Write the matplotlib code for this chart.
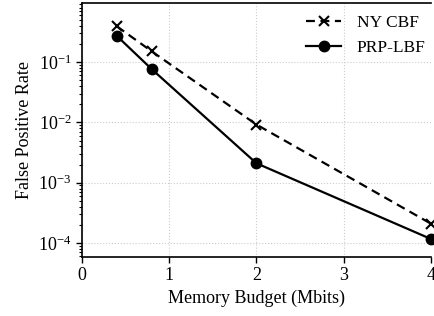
import matplotlib
matplotlib.use("Agg")
import matplotlib.pyplot as plt

plt.rcParams['font.family'] = ['Liberation Serif', 'DejaVu Serif']
plt.rcParams['mathtext.fontset'] = 'stix'

memory = [0.4, 0.8, 2, 4]
ny_cbf = [0.39, 0.15, 0.0092, 2.1e-4]
prp_lbf = [0.27, 0.076, 0.0021, 1.17e-4]

fig = plt.figure(figsize=(4.35, 3.16), dpi=100)
ax = fig.add_axes([0.1885, 0.187, 0.802, 0.8035])
ax.plot(memory, ny_cbf, linestyle=(0, (4, 2.5)), color='black', marker='x', markersize=7.5,
        markeredgewidth=1.5, linewidth=1.6, label='NY CBF', clip_on=False, zorder=3)
ax.plot(memory, prp_lbf, linestyle='-', color='black', marker='o', markersize=7.5,
        linewidth=1.6, label='PRP-LBF', clip_on=False, zorder=3)
ax.set_yscale('log')
ax.set_xlim(0, 4)
ax.set_ylim(5.9e-5, 0.95)
ax.set_xticks([0, 1, 2, 3, 4])
ax.grid(True, which='major', linestyle=':', color='#cccccc', linewidth=0.8)
ax.spines['right'].set_visible(False)
for s in ['top', 'left', 'bottom']:
    ax.spines[s].set_linewidth(1.2)
ax.tick_params(axis='both', which='major', labelsize=13, direction='out', length=4, width=1)
ax.tick_params(axis='y', which='minor', direction='out', length=2, width=0.8)
ax.set_xlabel('Memory Budget (Mbits)', fontsize=13)
ax.set_ylabel('False Positive Rate', fontsize=13)
ax.legend(loc='upper right', bbox_to_anchor=(1.0, 0.975), frameon=False, fontsize=12.5,
          handlelength=2.0, borderaxespad=0.0, borderpad=0.3, labelspacing=0.55,
          handletextpad=0.9)
fig.savefig('out.png', dpi=100)
